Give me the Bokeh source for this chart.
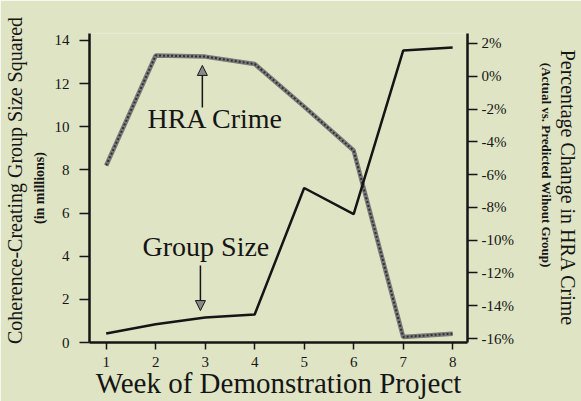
from bokeh.plotting import figure
from bokeh.models import (Range1d, LinearAxis, FixedTicker, Label, Arrow, NormalHead)
from bokeh.embed import file_html
from bokeh.resources import INLINE

# ---- data ----
weeks = [1, 2, 3, 4, 5, 6, 7, 8]
group_size = [0.42, 0.85, 1.16, 1.30, 7.16, 5.95, 13.53, 13.67]       # millions (left axis)
hra_crime = [-5.44, 1.27, 1.20, 0.75, -1.85, -4.53, -15.9, -15.7]     # percent (right axis)
left_ticks = [0, 2, 4, 6, 8, 10, 12, 14]
right_ticks = [2, 0, -2, -4, -6, -8, -10, -12, -14, -16]
right_tick_labels = ["2%", "0%", "-2%", "-4%", "-6%", "-8%", "-10%", "-12%", "-14%", "-16%"]

BG = "#dfe4c4"
INK = "#151515"
SERIF = "Liberation Serif"
NB = "\u00a0"

p = figure(width=581, height=401, output_backend="svg", toolbar_location=None,
           x_range=Range1d(0.663, 8.30), y_range=Range1d(0, 14.32),
           min_border_left=88, min_border_right=108, min_border_top=33, min_border_bottom=59)
p.extra_y_ranges = {"pct": Range1d(-16.24, 2.61)}
p.background_fill_color = BG
p.border_fill_color = BG
p.outline_line_color = None
p.grid.visible = False


def style_axis(ax, tick_out, standoff, font_size):
    ax.axis_line_width = 2.5
    ax.axis_line_color = INK
    ax.major_tick_line_color = INK
    ax.major_tick_line_width = 1.5
    ax.major_tick_in = 0
    ax.major_tick_out = tick_out
    ax.minor_tick_line_color = None
    ax.major_label_standoff = standoff
    ax.major_label_text_font = SERIF
    ax.major_label_text_font_size = font_size
    ax.major_label_text_color = INK


def title_axis(ax, text, size, standoff, bold=False):
    ax.ticker = FixedTicker(ticks=[])
    ax.axis_line_color = None
    ax.major_tick_line_color = None
    ax.minor_tick_line_color = None
    ax.major_tick_out = 0
    ax.major_tick_in = 0
    ax.major_label_standoff = 0
    ax.axis_label = text
    ax.axis_label_text_font = SERIF
    ax.axis_label_text_font_size = size
    ax.axis_label_text_font_style = "bold" if bold else "normal"
    ax.axis_label_text_color = INK
    ax.axis_label_standoff = standoff


# bottom axis
xa = p.xaxis[0]
xa.ticker = FixedTicker(ticks=weeks)
style_axis(xa, 7, 7, "15px")
xa.axis_label = "Week of Demonstration Project"
xa.axis_label_text_font = SERIF
xa.axis_label_text_font_size = "29px"
xa.axis_label_text_font_style = "normal"
xa.axis_label_text_color = INK
xa.axis_label_standoff = -3

# left axis (+ sub title)
ya = p.yaxis[0]
ya.ticker = FixedTicker(ticks=left_ticks)
style_axis(ya, 10, 10, "15px")
ya.axis_label = "(in millions)"
ya.axis_label_text_font = SERIF
ya.axis_label_text_font_size = "14px"
ya.axis_label_text_font_style = "bold"
ya.axis_label_text_color = INK
ya.axis_label_standoff = 5

# left outer title
lt = LinearAxis()
title_axis(lt, NB * 3 + "Coherence-Creating Group Size Squared", "20px", 3)
p.add_layout(lt, "left")

# right axis (+ sub title)
ra = LinearAxis(y_range_name="pct")
ra.ticker = FixedTicker(ticks=right_ticks)
ra.major_label_overrides = {t: s for t, s in zip(right_ticks, right_tick_labels)}
style_axis(ra, 10, 4, "15px")
ra.axis_label = "(Actual vs. Predicted Wihout Group)" + NB * 14
ra.axis_label_text_font = SERIF
ra.axis_label_text_font_size = "13px"
ra.axis_label_text_font_style = "bold"
ra.axis_label_text_color = INK
ra.axis_label_standoff = 22
p.add_layout(ra, "right")

# right outer title
rt = LinearAxis(y_range_name="pct")
title_axis(rt, "Percentage Change in HRA Crime", "20px", 0)
p.add_layout(rt, "right")

# series
p.line(weeks, hra_crime, y_range_name="pct", line_color="#7a7a7a", line_width=4.5)
p.line(weeks, hra_crime, y_range_name="pct", line_color="#303030", line_width=2,
       line_dash="2 2")
p.line(weeks, group_size, line_color=INK, line_width=2.5)

# annotations
p.add_layout(Label(x=1.833, y=10.385, text="HRA Crime", text_font=SERIF,
                   text_font_size="28px", text_color=INK, text_baseline="middle"))
p.add_layout(Label(x=1.734, y=4.43, text="Group Size", text_font=SERIF,
                   text_font_size="28px", text_color=INK, text_baseline="middle"))
p.add_layout(Arrow(end=NormalHead(size=10, fill_color="#8a8a8a", line_color=INK, line_width=1),
                   x_start=2.943, y_start=10.89, x_end=2.943, y_end=12.84,
                   line_color=INK, line_width=1.5))
p.add_layout(Arrow(end=NormalHead(size=10, fill_color="#8a8a8a", line_color=INK, line_width=1),
                   x_start=2.904, y_start=3.57, x_end=2.904, y_end=1.48,
                   line_color=INK, line_width=1.5))

open("out.html", "w").write(file_html(p, INLINE))
